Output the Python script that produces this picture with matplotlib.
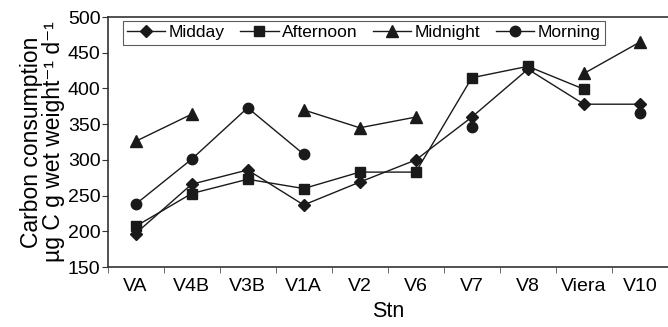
import numpy as np
import matplotlib.pyplot as plt

plt.rcParams['font.family'] = ['Liberation Sans', 'DejaVu Sans']

# Stations and carbon consumption values
stations = ['VA', 'V4B', 'V3B', 'V1A', 'V2', 'V6', 'V7', 'V8', 'Viera', 'V10']
midday = [197, 266, 286, 237, 269, 300, 360, 427, 378, 378]
afternoon = [207, 253, 273, 260, 283, 283, 415, 431, 399, np.nan]
midnight = [326, 364, np.nan, 370, 345, 360, np.nan, np.nan, 421, 465]
morning = [238, 301, 373, 308, np.nan, np.nan, 346, np.nan, np.nan, 365]

x = np.arange(len(stations))
col = '#1a1a1a'

fig = plt.figure(figsize=(6.68, 3.27), dpi=100)
ax = fig.add_axes([0.161, 0.183, 0.839, 0.765])

ax.plot(x, midday, color=col, lw=1.0, marker='D', ms=6.5, label='Midday')
ax.plot(x, afternoon, color=col, lw=1.0, marker='s', ms=7, label='Afternoon')
ax.plot(x, midnight, color=col, lw=1.0, marker='^', ms=8.5, label='Midnight')
ax.plot(x, morning, color=col, lw=1.0, marker='o', ms=7.5, label='Morning')

ax.set_xlim(-0.5, 9.5)
ax.set_ylim(150, 500)
ax.set_yticks(range(150, 501, 50))
ax.set_xticks(x)
ax.set_xticklabels(stations)
ax.set_xticks(np.arange(-0.5, 9.6, 1), minor=True)
ax.tick_params(axis='x', which='major', length=0, pad=8, labelsize=14)
ax.tick_params(axis='x', which='minor', length=4, color='#555555')
ax.tick_params(axis='y', length=4, pad=1, labelsize=14, color='#333333')

for s in ['left', 'top', 'bottom']:
    ax.spines[s].set_linewidth(1.2)
    ax.spines[s].set_color('#333333')
ax.spines['right'].set_visible(False)

ax.set_xlabel('Stn', fontsize=15.5, labelpad=4)
ax.set_ylabel('Carbon consumption\nµg C g wet weight⁻¹ d⁻¹', fontsize=16.5,
              labelpad=2, linespacing=0.95)

leg = ax.legend(loc='upper left', bbox_to_anchor=(0.027, 0.985), ncol=4,
                frameon=True, fancybox=False, fontsize=12.5, handlelength=2.2,
                handletextpad=0.2, columnspacing=0.9, borderpad=0.25,
                borderaxespad=0)
leg.get_frame().set_edgecolor('#333333')
leg.get_frame().set_linewidth(0.8)

fig.savefig('out.png', dpi=100)
